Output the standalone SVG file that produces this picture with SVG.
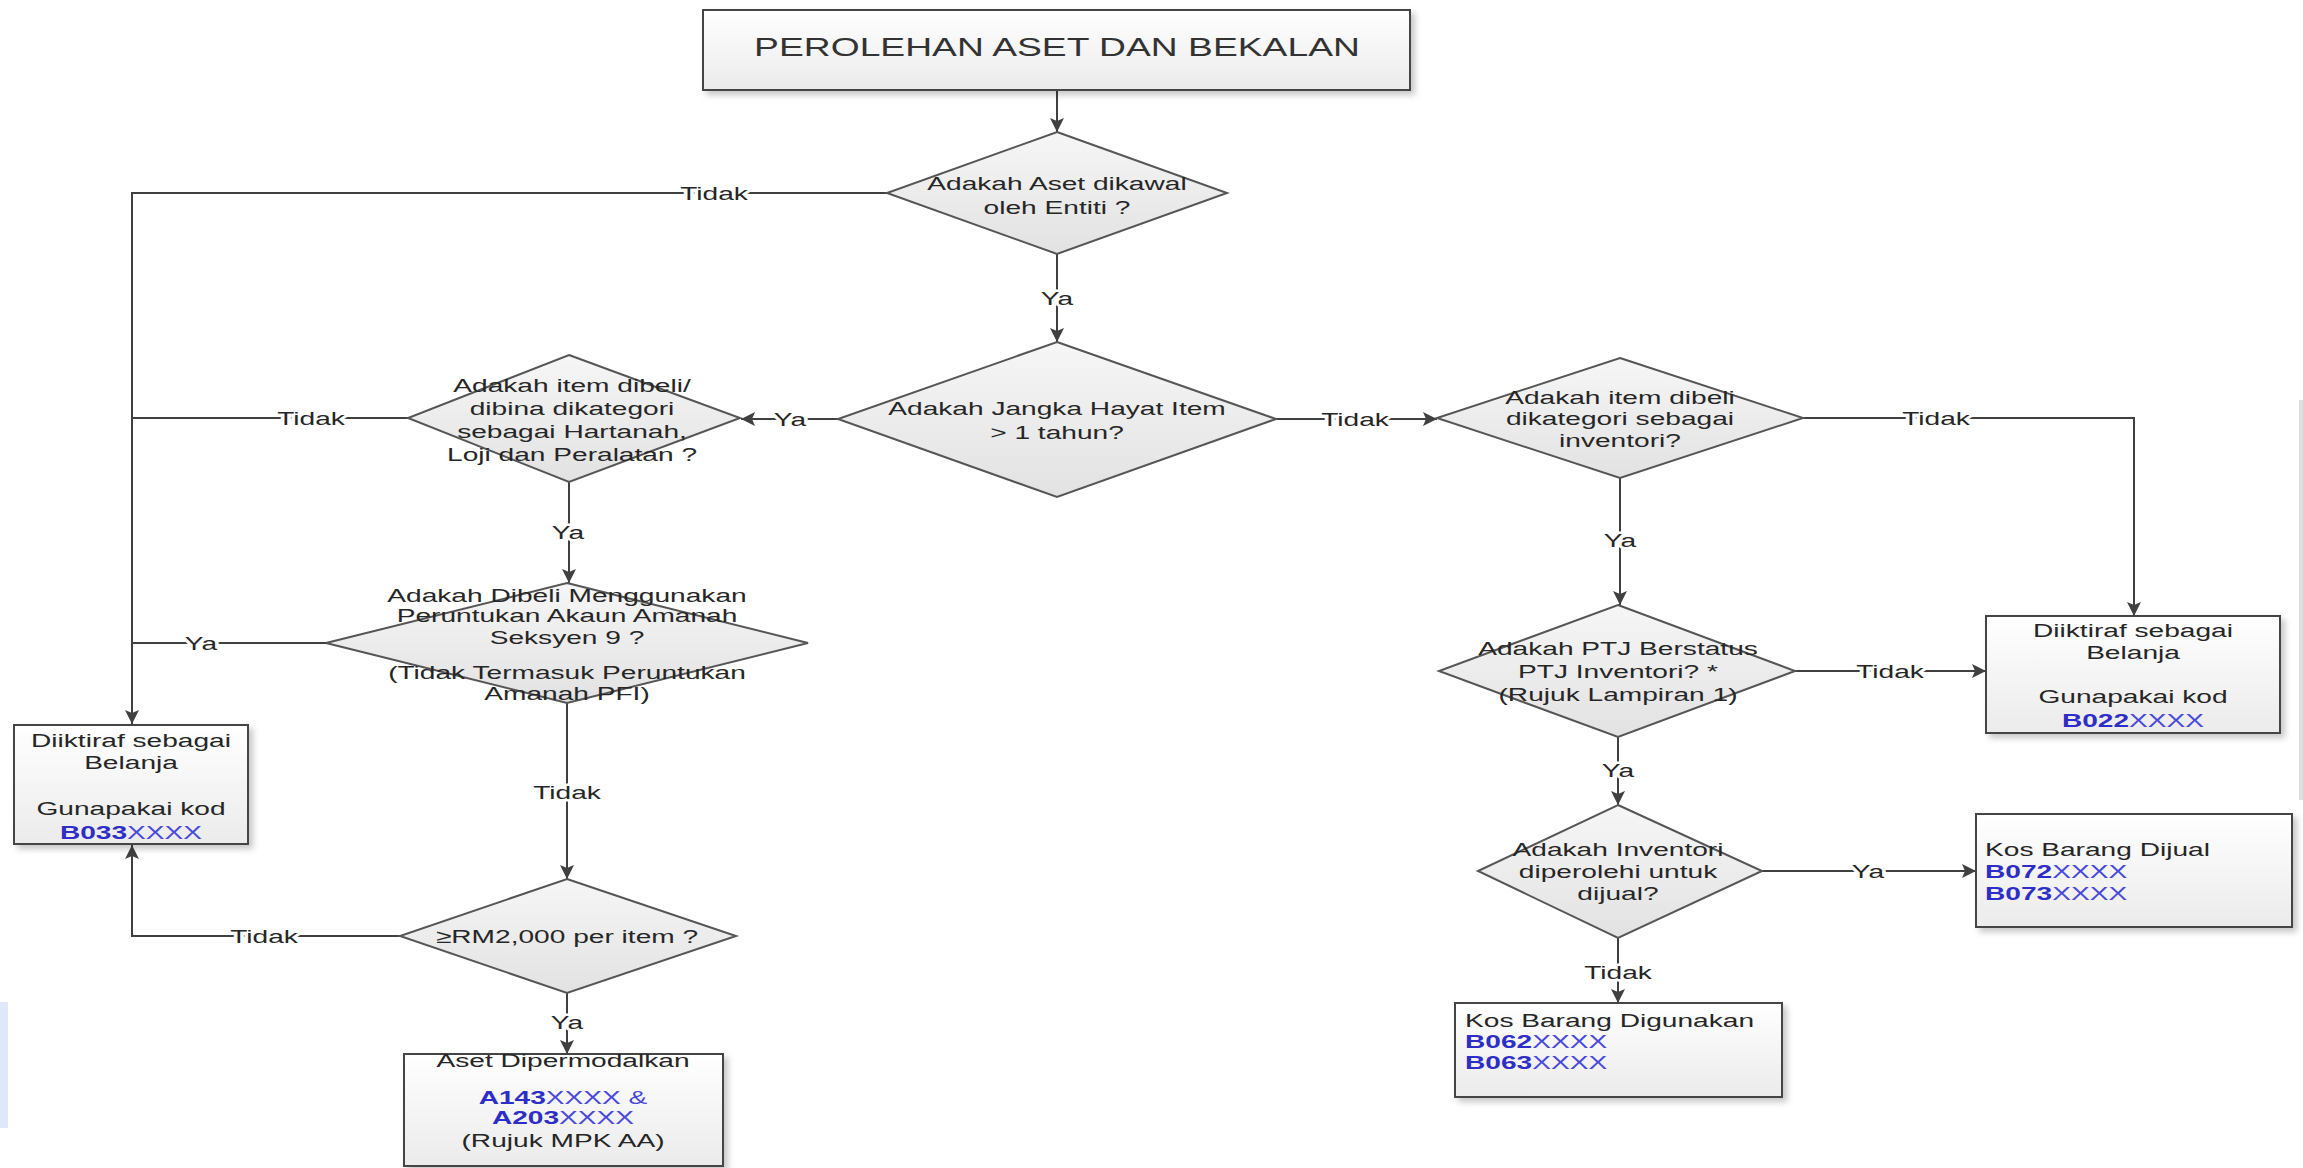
<svg xmlns="http://www.w3.org/2000/svg" width="2303" height="1168" viewBox="0 0 2303 1168">
<style>
.ln{fill:none;stroke:#404040;stroke-width:2}
.dm{fill:url(#gd);stroke:#555;stroke-width:2}
.bx{fill:url(#gb);stroke:#444;stroke-width:2}
text{font-family:"Liberation Sans",Arial,sans-serif;font-size:19px;fill:#262626}
.c{text-anchor:middle}
.lb{paint-order:stroke;stroke:#fff;stroke-width:5px;stroke-linejoin:round}
.k{fill:#2e2ec6;font-weight:bold}
.x{fill:#4848dc;font-weight:normal}
.ttl{font-size:25px;fill:#333}
</style>
<defs>
<linearGradient id="gd" x1="0" y1="0" x2="0" y2="1"><stop offset="0" stop-color="#f6f6f6"/><stop offset="1" stop-color="#e2e2e2"/></linearGradient>
<linearGradient id="gb" x1="0" y1="0" x2="0" y2="1"><stop offset="0" stop-color="#ffffff"/><stop offset="1" stop-color="#ebebeb"/></linearGradient>
<filter id="sh" x="-10%" y="-10%" width="130%" height="130%"><feDropShadow dx="4" dy="4" stdDeviation="3" flood-color="#000" flood-opacity="0.22"/></filter>
<marker id="ah" viewBox="0 0 14 14" refX="14" refY="7" markerWidth="14" markerHeight="14" markerUnits="userSpaceOnUse" orient="auto"><path d="M0,0 L14,7 L0,14 L3,7 z" fill="#404040"/></marker>
</defs>
<rect width="2303" height="1168" fill="#fff"/>
<rect x="0" y="1002" width="8" height="126" fill="#dde8f8"/>
<rect x="2299" y="400" width="4" height="400" fill="#dedede"/>

<g id="connectors">
<path class="ln" d="M1057,90 V132" marker-end="url(#ah)"/>
<path class="ln" d="M887,193 H132 V724" marker-end="url(#ah)"/>
<path class="ln" d="M1057,254 V342" marker-end="url(#ah)"/>
<path class="ln" d="M838,419 H741" marker-end="url(#ah)"/>
<path class="ln" d="M1276,419 H1437" marker-end="url(#ah)"/>
<path class="ln" d="M408,418 H132"/>
<path class="ln" d="M569,482 V583" marker-end="url(#ah)"/>
<path class="ln" d="M326,643 H132"/>
<path class="ln" d="M567,703 V879" marker-end="url(#ah)"/>
<path class="ln" d="M400,936 H132 V845" marker-end="url(#ah)"/>
<path class="ln" d="M567,993 V1054" marker-end="url(#ah)"/>
<path class="ln" d="M1803,418 H2134 V616" marker-end="url(#ah)"/>
<path class="ln" d="M1620,478 V605" marker-end="url(#ah)"/>
<path class="ln" d="M1795,671 H1986" marker-end="url(#ah)"/>
<path class="ln" d="M1618,737 V805" marker-end="url(#ah)"/>
<path class="ln" d="M1762,871 H1976" marker-end="url(#ah)"/>
<path class="ln" d="M1618,938 V1003" marker-end="url(#ah)"/>
<g class="lbls">
<text class="c lb" transform="translate(714,0) scale(1.48,1)" x="0" y="200">Tidak</text>
<text class="c lb" transform="translate(1057,0) scale(1.48,1)" x="0" y="305">Ya</text>
<text class="c lb" transform="translate(790,0) scale(1.48,1)" x="0" y="426">Ya</text>
<text class="c lb" transform="translate(1355,0) scale(1.48,1)" x="0" y="426">Tidak</text>
<text class="c lb" transform="translate(311,0) scale(1.48,1)" x="0" y="425">Tidak</text>
<text class="c lb" transform="translate(568,0) scale(1.48,1)" x="0" y="539">Ya</text>
<text class="c lb" transform="translate(201,0) scale(1.48,1)" x="0" y="650">Ya</text>
<text class="c lb" transform="translate(567,0) scale(1.48,1)" x="0" y="799">Tidak</text>
<text class="c lb" transform="translate(264,0) scale(1.48,1)" x="0" y="943">Tidak</text>
<text class="c lb" transform="translate(567,0) scale(1.48,1)" x="0" y="1029">Ya</text>
<text class="c lb" transform="translate(1936,0) scale(1.48,1)" x="0" y="425">Tidak</text>
<text class="c lb" transform="translate(1620,0) scale(1.48,1)" x="0" y="547">Ya</text>
<text class="c lb" transform="translate(1890,0) scale(1.48,1)" x="0" y="678">Tidak</text>
<text class="c lb" transform="translate(1618,0) scale(1.48,1)" x="0" y="777">Ya</text>
<text class="c lb" transform="translate(1868,0) scale(1.48,1)" x="0" y="878">Ya</text>
<text class="c lb" transform="translate(1618,0) scale(1.48,1)" x="0" y="979">Tidak</text>
</g>
</g>

<g id="title">
<rect class="bx" x="703" y="10" width="707" height="80" filter="url(#sh)"/>
<text class="c ttl" transform="translate(1057,0) scale(1.49,1)" x="0" y="56">PEROLEHAN ASET DAN BEKALAN</text>
</g>

<g id="d1">
<polygon class="dm" points="1057,132 1227,193 1057,254 887,193"/>
<text class="c" transform="translate(1057,0) scale(1.48,1)"><tspan x="0" y="190">Adakah Aset dikawal</tspan><tspan x="0" y="214">oleh Entiti ?</tspan></text>
</g>

<g id="d2">
<polygon class="dm" points="1057,342 1276,419 1057,497 838,419"/>
<text class="c" transform="translate(1057,0) scale(1.48,1)"><tspan x="0" y="415">Adakah Jangka Hayat Item</tspan><tspan x="0" y="439">&gt; 1 tahun?</tspan></text>
</g>

<g id="d3">
<polygon class="dm" points="569,355 740,418 569,482 408,418"/>
<text class="c" transform="translate(572,0) scale(1.48,1)"><tspan x="0" y="392">Adakah item dibeli/</tspan><tspan x="0" y="415">dibina dikategori</tspan><tspan x="0" y="438">sebagai Hartanah,</tspan><tspan x="0" y="461">Loji dan Peralatan ?</tspan></text>
</g>

<g id="d4">
<polygon class="dm" points="567,583 808,643 567,703 326,643"/>
<text class="c" transform="translate(567,0) scale(1.48,1)"><tspan x="0" y="602">Adakah Dibeli Menggunakan</tspan><tspan x="0" y="622">Peruntukan Akaun Amanah</tspan><tspan x="0" y="644">Seksyen 9 ?</tspan><tspan x="0" y="679">(Tidak Termasuk Peruntukan</tspan><tspan x="0" y="700">Amanah PFI)</tspan></text>
</g>

<g id="d5">
<polygon class="dm" points="567,879 736,936 567,993 400,936"/>
<text class="c" transform="translate(567,0) scale(1.48,1)" x="0" y="943">≥RM2,000 per item ?</text>
</g>

<g id="b033">
<rect class="bx" x="14" y="725" width="234" height="119" filter="url(#sh)"/>
<text class="c" transform="translate(131,0) scale(1.48,1)"><tspan x="0" y="747">Diiktiraf sebagai</tspan><tspan x="0" y="769">Belanja</tspan><tspan x="0" y="815">Gunapakai kod</tspan><tspan x="0" y="839" class="k">B033<tspan class="x">XXXX</tspan></tspan></text>
</g>

<g id="aset">
<rect class="bx" x="404" y="1054" width="319" height="112" filter="url(#sh)"/>
<text class="c" transform="translate(563,0) scale(1.48,1)"><tspan x="0" y="1067">Aset Dipermodalkan</tspan><tspan x="0" y="1104" class="k">A143<tspan class="x">XXXX &amp;</tspan></tspan><tspan x="0" y="1124" class="k">A203<tspan class="x">XXXX</tspan></tspan><tspan x="0" y="1147">(Rujuk MPK AA)</tspan></text>
</g>

<g id="d6">
<polygon class="dm" points="1620,358 1803,418 1620,478 1437,418"/>
<text class="c" transform="translate(1620,0) scale(1.48,1)"><tspan x="0" y="404">Adakah item dibeli</tspan><tspan x="0" y="425">dikategori sebagai</tspan><tspan x="0" y="447">inventori?</tspan></text>
</g>

<g id="b022">
<rect class="bx" x="1986" y="616" width="294" height="117" filter="url(#sh)"/>
<text class="c" transform="translate(2133,0) scale(1.48,1)"><tspan x="0" y="637">Diiktiraf sebagai</tspan><tspan x="0" y="659">Belanja</tspan><tspan x="0" y="703">Gunapakai kod</tspan><tspan x="0" y="727" class="k">B022<tspan class="x">XXXX</tspan></tspan></text>
</g>

<g id="d7">
<polygon class="dm" points="1618,605 1795,671 1618,737 1439,671"/>
<text class="c" transform="translate(1618,0) scale(1.48,1)"><tspan x="0" y="655">Adakah PTJ Berstatus</tspan><tspan x="0" y="678">PTJ Inventori? *</tspan><tspan x="0" y="701">(Rujuk Lampiran 1)</tspan></text>
</g>

<g id="d8">
<polygon class="dm" points="1618,805 1762,871 1618,938 1478,871"/>
<text class="c" transform="translate(1618,0) scale(1.48,1)"><tspan x="0" y="856">Adakah Inventori</tspan><tspan x="0" y="878">diperolehi untuk</tspan><tspan x="0" y="900">dijual?</tspan></text>
</g>

<g id="dijual">
<rect class="bx" x="1976" y="814" width="316" height="113" filter="url(#sh)"/>
<text transform="translate(1985,0) scale(1.48,1)"><tspan x="0" y="856">Kos Barang Dijual</tspan><tspan x="0" y="878" class="k">B072<tspan class="x">XXXX</tspan></tspan><tspan x="0" y="900" class="k">B073<tspan class="x">XXXX</tspan></tspan></text>
</g>

<g id="digunakan">
<rect class="bx" x="1455" y="1003" width="327" height="94" filter="url(#sh)"/>
<text transform="translate(1465,0) scale(1.48,1)"><tspan x="0" y="1027">Kos Barang Digunakan</tspan><tspan x="0" y="1048" class="k">B062<tspan class="x">XXXX</tspan></tspan><tspan x="0" y="1069" class="k">B063<tspan class="x">XXXX</tspan></tspan></text>
</g>
</svg>
